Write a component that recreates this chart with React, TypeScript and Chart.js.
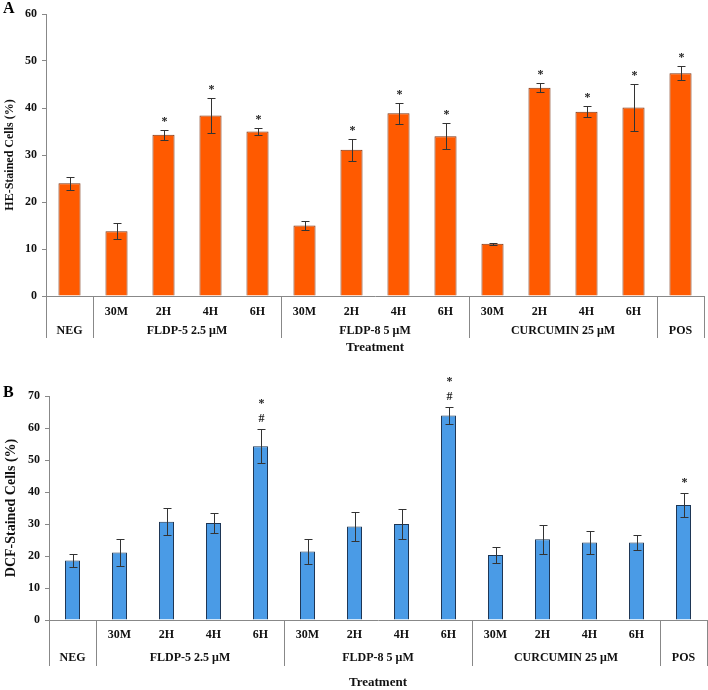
import React, { useEffect, useRef } from 'react';
import { Chart, registerables } from 'chart.js';

Chart.register(...registerables);

// ---------- data ----------
const subLabels = ['', '30M', '2H', '4H', '6H', '30M', '2H', '4H', '6H', '30M', '2H', '4H', '6H', ''];
const groupNames = ['NEG', 'FLDP-5 2.5 μM', 'FLDP-8 5 μM', 'CURCUMIN 25 μM', 'POS'];
const groupSizes = [1, 4, 4, 4, 1];

const heMeans = [24.0, 13.8, 34.3, 38.4, 35.0, 15.0, 31.1, 38.9, 34.0, 11.1, 44.3, 39.2, 40.1, 47.4];
const heErrors = [1.4, 1.7, 1.1, 3.8, 0.7, 0.9, 2.3, 2.2, 2.8, 0.2, 1.0, 1.2, 5.0, 1.5];
const heMarks: string[][] = [[], [], ['*'], ['*'], ['*'], [], ['*'], ['*'], ['*'], [], ['*'], ['*'], ['*'], ['*']];

const dcfMeans = [18.6, 21.1, 30.7, 30.3, 54.3, 21.4, 29.2, 30.0, 63.9, 20.3, 25.2, 24.2, 24.2, 35.9];
const dcfErrors = [2.1, 4.3, 4.2, 3.0, 5.3, 3.9, 4.6, 4.7, 2.7, 2.5, 4.5, 3.5, 2.3, 3.8];
const dcfMarks: string[][] = [[], [], [], [], ['#', '*'], [], [], [], ['#', '*'], [], [], [], [], ['*']];

const heAxisMax = 60;
const dcfAxisMax = 70;
const axisStep = 10;

const FONT = "'Liberation Serif', 'Times New Roman', serif";

type PanelProps = {
  letter: string;
  yTitle: string;
  yTitleSize: number;
  means: number[];
  errors: number[];
  marks: string[][];
  yMax: number;
  fill: string;
  border: string;
  barPct: number;
  height: number;
  padTop: number;
  padRight: number;
  yWidth: number;
  xHeight: number;
  letterY: number;
  subDy: number;
  groupDy: number;
  sepDy: number;
  titleDy: number;
  markGap: number;
};

function Panel(p: PanelProps) {
  const ref = useRef<HTMLCanvasElement | null>(null);

  useEffect(() => {
    if (!ref.current) return;
    const n = subLabels.length;

    const decor = {
      id: 'decor',
      afterDatasetsDraw(chart: any) {
        const ctx = chart.ctx;
        const ys = chart.scales.y;
        const meta = chart.getDatasetMeta(0);
        ctx.save();
        ctx.strokeStyle = '#333';
        ctx.lineWidth = 1;
        meta.data.forEach((bar: any, i: number) => {
          const x = Math.round(bar.x) + 0.5;
          const yt = Math.round(ys.getPixelForValue(p.means[i] + p.errors[i])) + 0.5;
          const yb = Math.round(ys.getPixelForValue(p.means[i] - p.errors[i])) + 0.5;
          ctx.beginPath();
          ctx.moveTo(x, yt);
          ctx.lineTo(x, yb);
          ctx.moveTo(x - 4, yt);
          ctx.lineTo(x + 4, yt);
          ctx.moveTo(x - 4, yb);
          ctx.lineTo(x + 4, yb);
          ctx.stroke();
          ctx.fillStyle = '#222';
          ctx.font = `bold 12px ${FONT}`;
          ctx.textAlign = 'center';
          ctx.textBaseline = 'alphabetic';
          p.marks[i].forEach((m, k) => {
            ctx.fillText(m, x, yt - p.markGap - k * 15);
          });
        });
        ctx.restore();
      },
      afterDraw(chart: any) {
        const ctx = chart.ctx;
        const xs = chart.scales.x;
        const area = chart.chartArea;
        const px = (i: number) => xs.getPixelForValue(i);
        const half = (px(1) - px(0)) / 2;
        const boundary = (i: number) => {
          if (i <= 0) return px(0) - half;
          if (i >= n) return px(n - 1) + half;
          return (px(i - 1) + px(i)) / 2;
        };
        ctx.save();
        // separators
        ctx.strokeStyle = '#888';
        ctx.lineWidth = 1;
        let start = 0;
        const bounds = [0];
        groupSizes.forEach((s) => {
          start += s;
          bounds.push(start);
        });
        bounds.forEach((b) => {
          const x = Math.round(boundary(b)) + 0.5;
          ctx.beginPath();
          ctx.moveTo(x, area.bottom);
          ctx.lineTo(x, area.bottom + p.sepDy);
          ctx.stroke();
        });
        // sub labels
        ctx.fillStyle = '#111';
        ctx.textAlign = 'center';
        ctx.textBaseline = 'middle';
        ctx.font = `bold 12px ${FONT}`;
        subLabels.forEach((s, i) => {
          if (s) ctx.fillText(s, px(i), area.bottom + p.subDy);
        });
        // group labels
        groupNames.forEach((g, gi) => {
          const cx = (boundary(bounds[gi]) + boundary(bounds[gi + 1])) / 2;
          ctx.fillText(g, cx, area.bottom + p.groupDy);
        });
        // axis title
        ctx.font = `bold 13px ${FONT}`;
        ctx.fillText('Treatment', (area.left + area.right) / 2, area.bottom + p.titleDy);
        // panel letter
        ctx.font = `bold 16px ${FONT}`;
        ctx.textAlign = 'left';
        ctx.fillStyle = '#000';
        ctx.fillText(p.letter, 3, p.letterY);
        ctx.restore();
      },
    };

    const chart = new Chart(ref.current, {
      type: 'bar',
      data: {
        labels: subLabels.map((s, i) => s || groupNames[i === 0 ? 0 : groupNames.length - 1]),
        datasets: [
          {
            data: p.means,
            backgroundColor: p.fill,
            borderColor: p.border,
            borderWidth: 1,
            barPercentage: p.barPct,
            categoryPercentage: 1,
          },
        ],
      },
      options: {
        responsive: false,
        animation: false,
        layout: { padding: { top: p.padTop, right: p.padRight, bottom: 0, left: 0 } },
        plugins: { legend: { display: false }, tooltip: { enabled: false } },
        scales: {
          x: {
            offset: true,
            ticks: { display: false },
            grid: { display: false },
            border: { display: true, color: '#888', width: 1 },
            afterFit: (s: any) => {
              s.height = p.xHeight;
            },
          },
          y: {
            min: 0,
            max: p.yMax,
            ticks: {
              stepSize: axisStep,
              color: '#111',
              padding: 5,
              font: { family: FONT, size: 12, weight: 'bold' },
            },
            grid: { display: true, drawOnChartArea: false, drawTicks: true, tickLength: 4, color: '#888' },
            border: { display: true, color: '#888', width: 1 },
            title: {
              display: true,
              text: p.yTitle,
              color: '#111',
              font: { family: FONT, size: p.yTitleSize, weight: 'bold' },
              padding: { top: 3, bottom: 0 },
            },
            afterFit: (s: any) => {
              s.width = p.yWidth;
            },
          },
        },
      },
      plugins: [decor],
    } as any);
    return () => chart.destroy();
  }, []);

  return <canvas ref={ref} width={708} height={p.height} style={{ display: 'block' }} />;
}

export default function App() {
  return (
    <div style={{ position: 'absolute', left: 0, top: 0, width: 708, height: 690, background: '#fff' }}>
      <Panel
        letter="A"
        yTitle="HE-Stained Cells (%)"
        yTitleSize={12}
        means={heMeans}
        errors={heErrors}
        marks={heMarks}
        yMax={heAxisMax}
        fill="#FF5A00"
        border="#7A3414"
        barPct={0.47}
        height={360}
        padTop={14}
        padRight={4}
        yWidth={46}
        xHeight={64}
        letterY={9}
        subDy={16}
        groupDy={35}
        sepDy={42}
        titleDy={52}
        markGap={6}
      />
      <Panel
        letter="B"
        yTitle="DCF-Stained Cells (%)"
        yTitleSize={14}
        means={dcfMeans}
        errors={dcfErrors}
        marks={dcfMarks}
        yMax={dcfAxisMax}
        fill="#4A9BE6"
        border="#1E3552"
        barPct={0.32}
        height={330}
        padTop={36}
        padRight={1}
        yWidth={49}
        xHeight={70}
        letterY={33}
        subDy={15}
        groupDy={38}
        sepDy={46}
        titleDy={63}
        markGap={7.5}
      />
    </div>
  );
}
